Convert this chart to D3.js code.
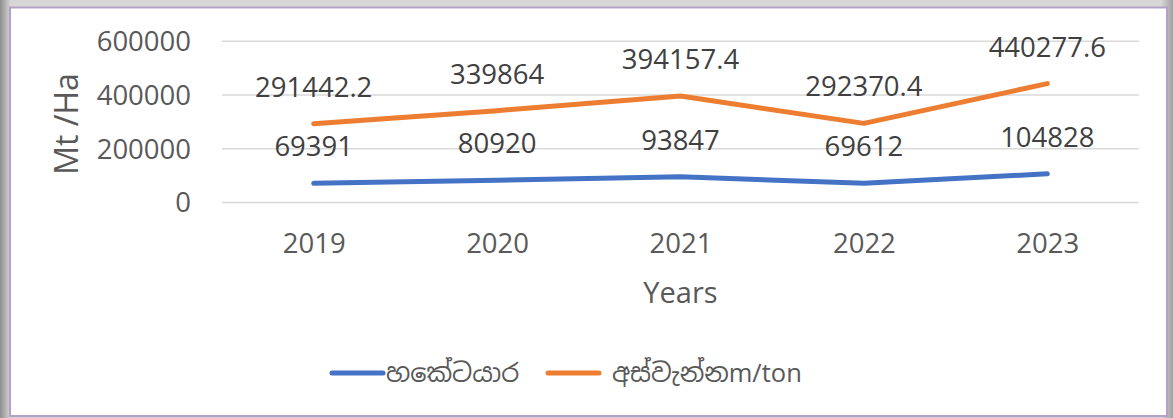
<!DOCTYPE html>
<html>
<head>
<meta charset="utf-8">
<script src="https://cdn.jsdelivr.net/npm/d3@7"></script>
<style>
  body { margin: 0; background: #fff; }
  text { font-family: 'Open Sans', 'Noto Sans', 'Noto Sans Sinhala', sans-serif; }
</style>
</head>
<body>
<div id="chart"></div>
<script>
const years = ['2019', '2020', '2021', '2022', '2023'];
const hectares = [69391, 80920, 93847, 69612, 104828];
const yieldTons = [291442.2, 339864, 394157.4, 292370.4, 440277.6];
const yTicks = [0, 200000, 400000, 600000];
const seriesNames = ['හකේටයාර', 'අස්වැන්නm/ton'];
const seriesColors = ['#4472c4', '#ed7d31'];

const W = 1173, H = 418;
// plot area inside the frame
const margin = { top: 40.7, right: 34, bottom: 216, left: 222 },
  width = W - margin.left - margin.right,
  height = H - margin.top - margin.bottom;

const svg = d3
  .select('#chart')
  .append('svg')
  .attr('width', W)
  .attr('height', H);

// grey shadow round the frame
const defs = svg.append('defs');
const gradX = defs
  .append('linearGradient')
  .attr('id', 'shadeX')
  .attr('x1', 0).attr('y1', 0).attr('x2', 1).attr('y2', 0);
gradX.append('stop').attr('offset', '0').attr('stop-color', '#8f8f8f');
gradX.append('stop').attr('offset', '0.009').attr('stop-color', '#d6d6d6');
gradX.append('stop').attr('offset', '0.99').attr('stop-color', '#d6d6d6');
gradX.append('stop').attr('offset', '1').attr('stop-color', '#a0a0a0');
svg.append('rect').attr('width', W).attr('height', H).attr('fill', 'url(#shadeX)');

svg
  .append('rect')
  .attr('x', 10)
  .attr('y', 7.5)
  .attr('width', 1157)
  .attr('height', 408.5)
  .attr('fill', '#fff')
  .attr('stroke', '#b3a2c8')
  .attr('stroke-width', 2);

const g = svg
  .append('g')
  .attr('transform', `translate(${margin.left}, ${margin.top})`);

const x = d3.scalePoint().domain(years).range([0, width]).padding(0.5);
const y = d3.scaleLinear().domain([0, 600000]).range([height, 0]);

// gridlines + y tick labels
const yAxis = d3
  .axisLeft(y)
  .tickValues(yTicks)
  .tickSize(-width)
  .tickPadding(31)
  .tickFormat(d3.format('d'));
g.append('g')
  .call(yAxis)
  .call((a) => a.select('.domain').remove())
  .call((a) =>
    a.selectAll('.tick line').attr('stroke', '#d9d9d9').attr('stroke-width', 1.4)
  )
  .call((a) =>
    a
      .selectAll('.tick text')
      .attr('fill', '#595959')
      .style('font-size', '27.5px')
      .attr('dy', '0.36em')
  );

// x tick labels
const xAxis = d3.axisBottom(x).tickSize(0).tickPadding(0);
g.append('g')
  .attr('transform', `translate(0, ${height})`)
  .call(xAxis)
  .call((a) => a.select('.domain').remove())
  .call((a) =>
    a
      .selectAll('.tick text')
      .attr('fill', '#595959')
      .style('font-size', '27.5px')
      .attr('dy', null)
      .attr('y', 51)
  );

// axis titles
g.append('text')
  .attr('x', width / 2)
  .attr('y', height + 101)
  .attr('text-anchor', 'middle')
  .attr('fill', '#595959')
  .style('font-size', '29px')
  .text('Years');

g.append('text')
  .attr('transform', `translate(${78 - margin.left}, ${124 - margin.top}) rotate(-90)`)
  .attr('text-anchor', 'middle')
  .attr('fill', '#595959')
  .style('font-size', '32px')
  .text('Mt /Ha');

// lines and data labels
const series = [hectares, yieldTons];
series.forEach(function (values, i) {
  const rows = years.map(function (yr, j) {
    return { year: yr, value: values[j] };
  });

  g.append('path')
    .datum(rows)
    .attr('fill', 'none')
    .attr('stroke', seriesColors[i])
    .attr('stroke-width', 5)
    .attr('stroke-linecap', 'round')
    .attr('stroke-linejoin', 'round')
    .attr(
      'd',
      d3
        .line()
        .x(function (d) {
          return x(d.year);
        })
        .y(function (d) {
          return y(d.value);
        })
    );

  g.append('g')
    .selectAll('text')
    .data(rows)
    .enter()
    .append('text')
    .attr('x', function (d) {
      return x(d.year);
    })
    .attr('y', function (d) {
      return y(d.value) - 27;
    })
    .attr('text-anchor', 'middle')
    .attr('fill', '#404040')
    .style('font-size', '27.5px')
    .text(function (d) {
      return d.value;
    });
});

// legend
const legendX = [332, 548];
const legend = svg.append('g');
seriesNames.forEach(function (name, i) {
  legend
    .append('line')
    .attr('x1', legendX[i])
    .attr('x2', legendX[i] + 51)
    .attr('y1', 373)
    .attr('y2', 373)
    .attr('stroke', seriesColors[i])
    .attr('stroke-width', 5)
    .attr('stroke-linecap', 'round');
  legend
    .append('text')
    .attr('x', legendX[i] + (i === 0 ? 54 : 64))
    .attr('y', 373)
    .attr('dy', '0.36em')
    .attr('fill', '#595959')
    .style('font-size', '25.5px')
    .text(name);
});
</script>
</body>
</html>
